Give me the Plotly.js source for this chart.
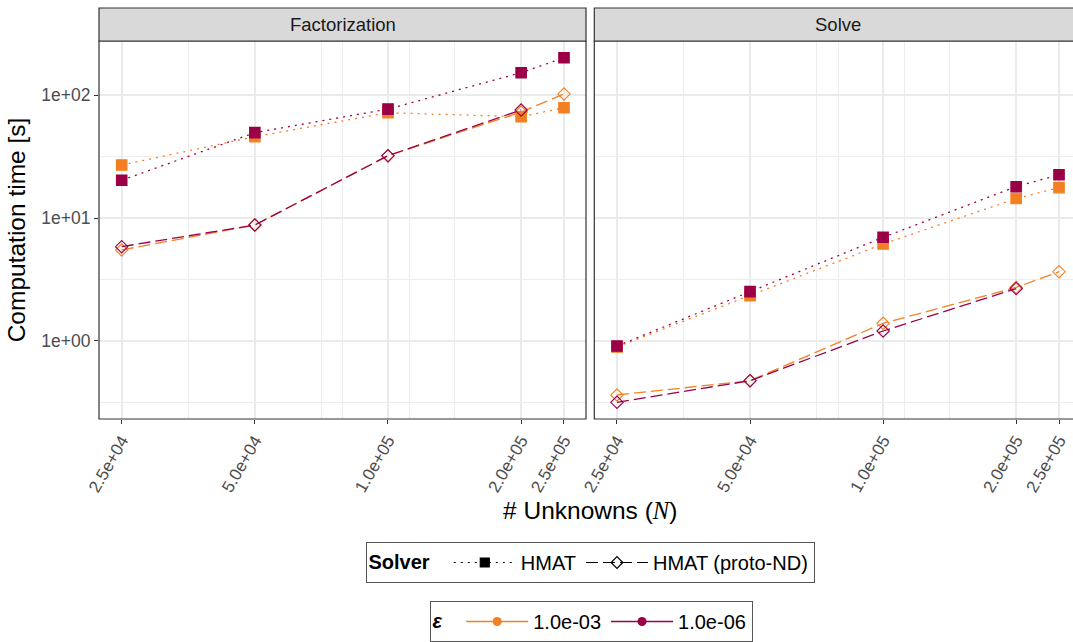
<!DOCTYPE html>
<html>
<head>
<meta charset="utf-8">
<script src="https://cdn.plot.ly/plotly-3.0.1.min.js"></script>
<style>
  html, body { margin: 0; padding: 0; background: #ffffff; }
  #chart { width: 1073px; height: 642px; }
</style>
</head>
<body>
<div id="chart"></div>
<script>
// ---- data ----
const unknowns = [25000, 50000, 100000, 200000, 250000];
const unknownsTickText = ["2.5e+04", "5.0e+04", "1.0e+05", "2.0e+05", "2.5e+05"];
const unknownsMinor = [35355, 70711, 79057, 111803, 141421];

const timeTicks = [1, 10, 100];
const timeTickText = ["1e+00", "1e+01", "1e+02"];
const timeMinor = [0.3162, 3.162, 31.62];

const panels = ["Factorization", "Solve"];
const solvers = ["HMAT", "HMAT (proto-ND)"];
const epsilons = ["1.0e-03", "1.0e-06"];

// Factorization
const factHmatE3  = [27.0, 46.0, 72.1, 66.9, 79.2];
const factHmatE6  = [20.3, 49.6, 77.2, 152.8, 202.4];
const factProtoE3 = [5.49, 8.77, 32.2, 73.0, 102.5];
const factProtoE6 = [5.84, 8.77, 32.2, 75.9, null];
// Solve
const solveHmatE3  = [0.89, 2.33, 6.14, 14.4, 17.7];
const solveHmatE6  = [0.905, 2.51, 6.96, 18.0, 22.5];
const solveProtoE3 = [0.361, 0.472, 1.386, 2.72, 3.65];
const solveProtoE6 = [0.315, 0.472, 1.20, 2.66, null];

// ---- styles ----
const colEps = {"1.0e-03": "#F28023", "1.0e-06": "#9B0047"};
const dashSolver = {"HMAT": "2px,5px", "HMAT (proto-ND)": "12px,5px"};
const symSolver = {"HMAT": "square", "HMAT (proto-ND)": "diamond-open"};
const sizeSolver = {"HMAT": 10.5, "HMAT (proto-ND)": 9.5};

function series(xa, ya, y, solver, eps) {
  return {
    type: "scatter", mode: "lines+markers",
    x: unknowns, y: y, xaxis: xa, yaxis: ya,
    showlegend: false, hoverinfo: "x+y",
    line: {color: colEps[eps], width: 1.3, dash: dashSolver[solver]},
    marker: {symbol: symSolver[solver], size: sizeSolver[solver], color: colEps[eps],
             line: {color: colEps[eps], width: 1.1}}
  };
}

const traces = [
  series("x", "y", factHmatE3, "HMAT", "1.0e-03"),
  series("x", "y", factProtoE3, "HMAT (proto-ND)", "1.0e-03"),
  series("x", "y", factHmatE6, "HMAT", "1.0e-06"),
  series("x", "y", factProtoE6, "HMAT (proto-ND)", "1.0e-06"),
  series("x2", "y2", solveHmatE3, "HMAT", "1.0e-03"),
  series("x2", "y2", solveProtoE3, "HMAT (proto-ND)", "1.0e-03"),
  series("x2", "y2", solveHmatE6, "HMAT", "1.0e-06"),
  series("x2", "y2", solveProtoE6, "HMAT (proto-ND)", "1.0e-06")
];

// legend entries
solvers.forEach(s => traces.push({
  type: "scatter", mode: "lines+markers", x: [null], y: [null],
  name: s, legend: "legend", showlegend: true,
  line: {color: "#000000", width: 1.2, dash: dashSolver[s]},
  marker: {symbol: symSolver[s], size: 9, color: "#000000", line: {color: "#000000", width: 1.2}}
}));
epsilons.forEach(e => traces.push({
  type: "scatter", mode: "lines+markers", x: [null], y: [null],
  name: e, legend: "legend2", showlegend: true,
  line: {color: colEps[e], width: 1.4},
  marker: {symbol: "circle", size: 9, color: colEps[e]}
}));

const W = 1073, H = 642;
const px = v => v / W, py = v => (H - v) / H;
const L1 = 99, R1 = 586, L2 = 594.3, R2 = 1081, T = 41, B = 419, ST = 8;

const fontFam = "Liberation Sans, Arial, Helvetica, sans-serif";

function xAxis(domain, anchor, rangeR) {
  return {
    type: "log", domain: domain, anchor: anchor,
    range: [4.3466, rangeR],
    tickmode: "array", tickvals: unknowns, ticktext: unknownsTickText,
    tickangle: -60, tickfont: {size: 17, color: "#4D4D4D", family: fontFam},
    ticks: "outside", ticklen: 4, tickwidth: 1, tickcolor: "#333333",
    showgrid: true, gridcolor: "#EBEBEB", gridwidth: 1.8,
    minor: {tickmode: "array", tickvals: unknownsMinor, showgrid: true,
            gridcolor: "#EBEBEB", gridwidth: 0.9, ticks: ""},
    showline: false, zeroline: false
  };
}
function yAxis(anchor, showLabels) {
  const ax = {
    type: "log", domain: [py(B), py(T)], anchor: anchor,
    range: [-0.638, 2.4425],
    tickmode: "array", tickvals: timeTicks, ticktext: timeTickText,
    tickfont: {size: 17.5, color: "#4D4D4D", family: fontFam},
    showticklabels: showLabels,
    ticks: showLabels ? "outside" : "", ticklen: 4, tickwidth: 1, tickcolor: "#333333",
    showgrid: true, gridcolor: "#EBEBEB", gridwidth: 1.8,
    minor: {tickmode: "array", tickvals: timeMinor, showgrid: true,
            gridcolor: "#EBEBEB", gridwidth: 0.9, ticks: ""},
    showline: false, zeroline: false
  };
  return ax;
}

const layout = {
  width: W, height: H,
  margin: {l: 0, r: 0, t: 0, b: 0},
  paper_bgcolor: "#ffffff", plot_bgcolor: "#ffffff",
  font: {family: fontFam, color: "#000000"},
  xaxis: xAxis([px(L1), px(R1)], "y", 5.4477),
  xaxis2: xAxis([px(L2), 1], "y2", 5.4296),
  yaxis: Object.assign(yAxis("x", true), {
    title: {text: "Computation time [s]", font: {size: 24.5, color: "#000000", family: fontFam}, standoff: 8}
  }),
  yaxis2: Object.assign(yAxis("x2", false), {matches: "y"}),
  shapes: [
    {type: "rect", xref: "paper", yref: "paper", x0: px(L1), x1: px(R1), y0: py(B), y1: py(T),
     line: {color: "#333333", width: 1.2}, fillcolor: "rgba(0,0,0,0)", layer: "above"},
    {type: "rect", xref: "paper", yref: "paper", x0: px(L2), x1: px(R2), y0: py(B), y1: py(T),
     line: {color: "#333333", width: 1.2}, fillcolor: "rgba(0,0,0,0)", layer: "above"},
    {type: "rect", xref: "paper", yref: "paper", x0: px(L1), x1: px(R1), y0: py(T), y1: py(ST),
     line: {color: "#333333", width: 1.2}, fillcolor: "#D9D9D9", layer: "above"},
    {type: "rect", xref: "paper", yref: "paper", x0: px(L2), x1: px(R2), y0: py(T), y1: py(ST),
     line: {color: "#333333", width: 1.2}, fillcolor: "#D9D9D9", layer: "above"}
  ],
  annotations: [
    {text: panels[0], xref: "paper", yref: "paper", x: px((L1 + R1) / 2), y: py((T + ST) / 2),
     xanchor: "center", yanchor: "middle", showarrow: false,
     font: {size: 18.5, color: "#1A1A1A", family: fontFam}},
    {text: panels[1], xref: "paper", yref: "paper", x: px((L2 + R2) / 2), y: py((T + ST) / 2),
     xanchor: "center", yanchor: "middle", showarrow: false,
     font: {size: 18.5, color: "#1A1A1A", family: fontFam}},
    {text: "# Unknowns (<span style=\"font-family:'Liberation Serif', 'DejaVu Serif', serif\"><i>N</i></span>)",
     xref: "paper", yref: "paper", x: px((L1 + R2) / 2), y: py(510),
     xanchor: "center", yanchor: "middle", showarrow: false,
     font: {size: 24.5, color: "#000000", family: fontFam}}
  ],
  legend: {
    orientation: "h", x: px(590), xanchor: "center", y: py(542), yanchor: "top",
    title: {text: "<b>Solver</b>  ", side: "left", font: {size: 20, family: fontFam}},
    font: {size: 20, family: fontFam, color: "#000000"},
    bordercolor: "#555555", borderwidth: 1, bgcolor: "#ffffff",
    itemwidth: 62, tracegroupgap: 0
  },
  legend2: {
    orientation: "h", x: px(591), xanchor: "center", y: py(601), yanchor: "top",
    title: {text: "<b><i>ε</i></b>  ", side: "left", font: {size: 20, family: fontFam}},
    font: {size: 20, family: fontFam, color: "#000000"},
    bordercolor: "#555555", borderwidth: 1, bgcolor: "#ffffff",
    itemwidth: 62
  }
};

Plotly.newPlot("chart", traces, layout, {displayModeBar: false, staticPlot: true});
</script>
</body>
</html>
